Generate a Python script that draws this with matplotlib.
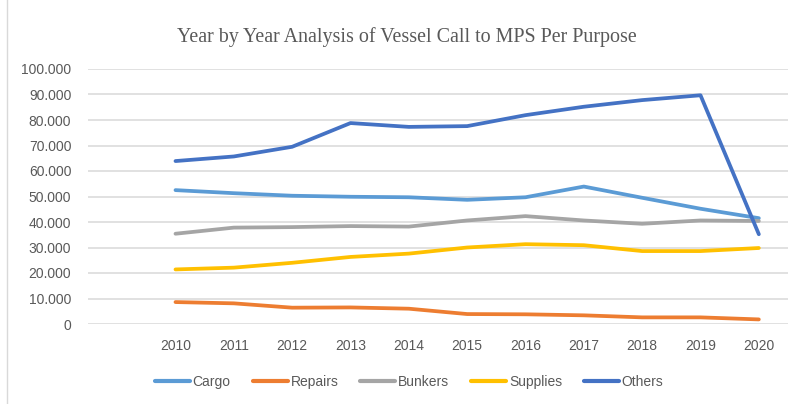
import matplotlib
matplotlib.use("Agg")
import matplotlib.pyplot as plt
from matplotlib.ticker import FuncFormatter
from matplotlib.lines import Line2D

# data
years = ["2010", "2011", "2012", "2013", "2014", "2015", "2016", "2017", "2018", "2019", "2020"]
cargo = [52500, 51300, 50300, 49900, 49700, 48700, 49700, 53900, 49500, 45200, 41500]
repairs = [8600, 8100, 6400, 6500, 6000, 3900, 3800, 3400, 2600, 2600, 1800]
bunkers = [35400, 37800, 38000, 38400, 38200, 40600, 42300, 40600, 39300, 40600, 40400]
supplies = [21400, 22100, 24000, 26300, 27600, 30000, 31300, 30900, 28600, 28600, 29800]
others = [63900, 65700, 69500, 78800, 77300, 77600, 81900, 85200, 87800, 89700, 35200]

series = [
    ("Cargo", cargo, "#5B9BD5"),
    ("Repairs", repairs, "#ED7D31"),
    ("Bunkers", bunkers, "#A5A5A5"),
    ("Supplies", supplies, "#FFC000"),
    ("Others", others, "#4472C4"),
]

txt = "#595959"
fig = plt.figure(figsize=(8.01, 4.04), dpi=100)
ax = fig.add_axes([88 / 801, 1 - 324 / 404, 700 / 801, 255 / 404])

x = list(range(len(years)))
for name, vals, col in series:
    ax.plot(x, vals, color=col, lw=2.7, solid_joinstyle="round",
            solid_capstyle="round", label=name)

ax.set_xlim(-1.5, 10.5)
ax.set_ylim(0, 100000)
ax.set_yticks(range(0, 100001, 10000))
ax.yaxis.set_major_formatter(FuncFormatter(lambda v, p: f"{int(v):,}".replace(",", ".")))
ax.set_xticks(x)
ax.set_xticklabels(years)
ax.grid(axis="y", color="#D9D9D9", lw=1.1)
ax.set_axisbelow(True)
for s in ax.spines.values():
    s.set_visible(False)
ax.tick_params(axis="both", length=0, colors=txt)
ax.tick_params(axis="y", pad=12, labelsize=10)
ax.tick_params(axis="x", pad=11, labelsize=10)
for lab in ax.get_xticklabels() + ax.get_yticklabels():
    lab.set_fontfamily("Liberation Sans")

fig.text(0.508, 0.908, "Year by Year Analysis of Vessel Call to MPS Per Purpose",
         ha="center", va="center", fontsize=14.4, color=txt, family="Liberation Serif")

leg = fig.legend(loc="center", bbox_to_anchor=(0.511, 0.055), ncol=5, frameon=False,
                 handlelength=2.5, handletextpad=0.2, columnspacing=1.6,
                 prop={"family": "Liberation Sans", "size": 10})
for t in leg.get_texts():
    t.set_color(txt)
for h in leg.legend_handles:
    h.set_linewidth(3)

# chart border at left edge
fig.add_artist(Line2D([6.5 / 801, 6.5 / 801], [0, 1], color="#D9D9D9", lw=1,
                      transform=fig.transFigure))

fig.savefig("out.png", dpi=100)
